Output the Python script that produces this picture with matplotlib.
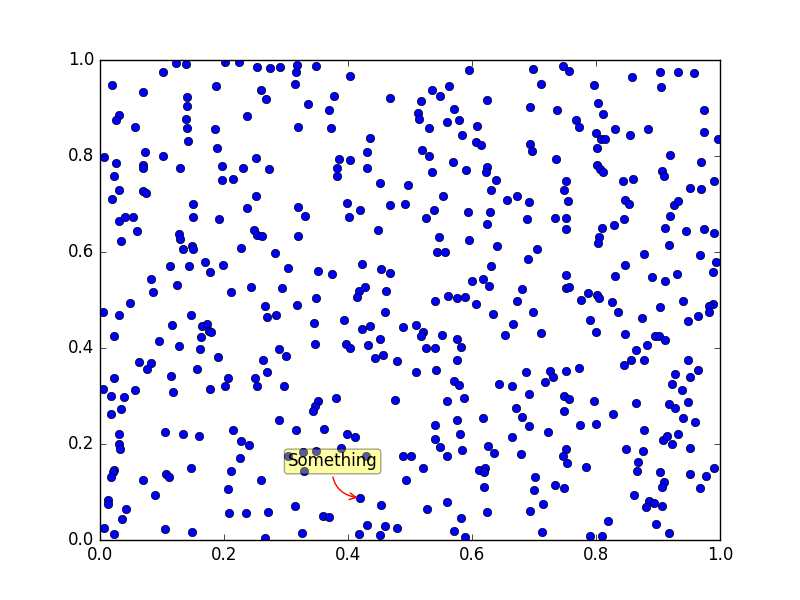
import matplotlib
matplotlib.use("Agg")
import matplotlib.pyplot as plt

# point positions, grouped by region (top-left to bottom-right)
x_vals = [
    # top row
    0.122, 0.139, 0.202, 0.224, 0.102, 0.019, 0.070, 0.187, 0.140, 0.140,
    0.031, 0.026, 0.237, 0.057, 0.138, 0.140, 0.186, 0.142, 0.189, 0.007,
    0.072, 0.102, 0.025, 0.070, 0.070, 0.129, 0.197, 0.230, 0.023, 0.197,
    0.214, 0.030, 0.069, 0.074, 0.020, 0.150, 0.237,
    0.254, 0.274, 0.290, 0.317, 0.316, 0.348, 0.404, 0.314, 0.259, 0.267,
    0.378, 0.468, 0.335, 0.369, 0.320, 0.372, 0.436, 0.251, 0.430, 0.385,
    0.404, 0.272, 0.383, 0.431, 0.383, 0.452, 0.251, 0.320, 0.399, 0.419,
    0.468, 0.492,
    0.595, 0.698, 0.711, 0.536, 0.563, 0.549, 0.517, 0.624, 0.571, 0.693,
    0.737, 0.513, 0.515, 0.579, 0.560, 0.530, 0.608, 0.584, 0.606, 0.614,
    0.693, 0.696, 0.519, 0.530, 0.735, 0.570, 0.591, 0.536, 0.624, 0.622,
    0.639, 0.496, 0.631, 0.554, 0.657, 0.673, 0.692, 0.538, 0.594, 0.629,
    0.747, 0.757, 0.904, 0.933, 0.958, 0.858, 0.905, 0.797, 0.804, 0.812,
    0.974, 0.767, 0.773, 0.830, 0.884, 0.800, 0.855, 0.808, 0.814, 0.974,
    0.997, 0.801, 0.920, 0.970, 0.801, 0.806, 0.811, 0.906, 0.910, 0.860,
    0.843, 0.752, 0.749, 0.991, 0.951, 0.970, 0.755, 0.846, 0.853, 0.925,
    0.933,
    # middle row
    0.031, 0.041, 0.053, 0.150, 0.192, 0.060, 0.034, 0.128, 0.129, 0.134,
    0.149, 0.150, 0.228, 0.113, 0.144, 0.169, 0.177, 0.198, 0.083, 0.086,
    0.124, 0.212, 0.243, 0.049, 0.005, 0.031, 0.147, 0.116, 0.165, 0.173,
    0.176, 0.179, 0.163, 0.023, 0.095, 0.128, 0.161, 0.191, 0.063, 0.083,
    0.076, 0.156,
    0.330, 0.401, 0.249, 0.254, 0.262, 0.319, 0.449, 0.282, 0.303, 0.351,
    0.374, 0.422, 0.454, 0.467, 0.293, 0.348, 0.428, 0.417, 0.414, 0.462,
    0.266, 0.269, 0.284, 0.317, 0.460, 0.345, 0.393, 0.436, 0.423, 0.488,
    0.346, 0.397, 0.404, 0.433, 0.452, 0.288, 0.300, 0.444, 0.456, 0.479,
    0.263, 0.269,
    0.525, 0.624, 0.689, 0.734, 0.546, 0.595, 0.544, 0.556, 0.640, 0.705,
    0.690, 0.631, 0.600, 0.618, 0.628, 0.681, 0.541, 0.562, 0.576, 0.589,
    0.607, 0.673, 0.634, 0.698, 0.509, 0.521, 0.518, 0.552, 0.576, 0.582,
    0.666, 0.653, 0.712, 0.526, 0.541, 0.576, 0.510, 0.542, 0.687, 0.726,
    0.752, 0.845, 0.920, 0.752, 0.809, 0.829, 0.911, 0.945, 0.974, 0.990,
    0.805, 0.803, 0.917, 0.877, 0.968, 0.994, 0.846, 0.751, 0.830, 0.891,
    0.912, 0.930, 0.989, 0.751, 0.757, 0.787, 0.801, 0.805, 0.775, 0.825,
    0.835, 0.904, 0.941, 0.989, 0.983, 0.983, 0.964, 0.949, 0.790, 0.874,
    0.800, 0.846, 0.895, 0.902, 0.911, 0.882, 0.864, 0.856, 0.878, 0.845,
    0.948, 0.751, 0.772, 0.927, 0.965,
    # bottom row
    0.023, 0.115, 0.207, 0.005, 0.018, 0.038, 0.057, 0.118, 0.177, 0.201,
    0.034, 0.017, 0.031, 0.030, 0.033, 0.105, 0.134, 0.160, 0.214, 0.228,
    0.240, 0.226, 0.023, 0.021, 0.018, 0.070, 0.106, 0.112, 0.147, 0.211,
    0.206, 0.089, 0.013, 0.013, 0.042, 0.036, 0.208, 0.235, 0.007, 0.022,
    0.105, 0.149,
    0.250, 0.253, 0.296, 0.351, 0.347, 0.344, 0.380, 0.476, 0.288, 0.316,
    0.361, 0.398, 0.411, 0.389, 0.327, 0.348, 0.304, 0.429, 0.489, 0.329,
    0.259, 0.494, 0.420, 0.454, 0.314, 0.271, 0.359, 0.369, 0.431, 0.459,
    0.479, 0.325, 0.417, 0.451, 0.266,
    0.571, 0.579, 0.644, 0.665, 0.718, 0.730, 0.692, 0.559, 0.587, 0.671,
    0.681, 0.692, 0.722, 0.541, 0.575, 0.618, 0.581, 0.665, 0.541, 0.549,
    0.584, 0.560, 0.626, 0.636, 0.679, 0.502, 0.521, 0.612, 0.621, 0.620,
    0.620, 0.702, 0.700, 0.734, 0.559, 0.528, 0.624, 0.583, 0.694, 0.714,
    0.571, 0.589, 0.713,
    0.951, 0.922, 0.938, 0.748, 0.757, 0.796, 0.864, 0.917, 0.928, 0.949,
    0.748, 0.827, 0.940, 0.960, 0.774, 0.800, 0.878, 0.908, 0.915, 0.923,
    0.933, 0.952, 0.751, 0.746, 0.754, 0.784, 0.848, 0.875, 0.867, 0.866,
    0.904, 0.909, 0.906, 0.951, 0.978, 0.991, 0.968, 0.748, 0.861, 0.886,
    0.880, 0.894, 0.907, 0.820, 0.896, 0.917, 0.790, 0.809,
]

y_vals = [
    # top row
    0.993, 0.991, 0.995, 0.995, 0.974, 0.948, 0.933, 0.945, 0.922, 0.904,
    0.885, 0.874, 0.883, 0.860, 0.877, 0.858, 0.856, 0.831, 0.816, 0.797,
    0.808, 0.800, 0.785, 0.781, 0.774, 0.776, 0.779, 0.774, 0.758, 0.749,
    0.753, 0.729, 0.727, 0.723, 0.710, 0.699, 0.691,
    0.985, 0.983, 0.985, 0.990, 0.974, 0.987, 0.966, 0.951, 0.938, 0.919,
    0.926, 0.920, 0.908, 0.895, 0.860, 0.858, 0.837, 0.795, 0.808, 0.793,
    0.791, 0.772, 0.774, 0.776, 0.758, 0.743, 0.716, 0.694, 0.702, 0.687,
    0.698, 0.700,
    0.979, 0.981, 0.949, 0.938, 0.945, 0.924, 0.915, 0.917, 0.898, 0.902,
    0.896, 0.890, 0.877, 0.875, 0.870, 0.858, 0.862, 0.843, 0.829, 0.823,
    0.825, 0.810, 0.812, 0.800, 0.793, 0.788, 0.770, 0.767, 0.777, 0.766,
    0.751, 0.740, 0.729, 0.716, 0.708, 0.716, 0.704, 0.688, 0.683, 0.684,
    0.987, 0.977, 0.975, 0.975, 0.972, 0.964, 0.944, 0.948, 0.910, 0.887,
    0.896, 0.875, 0.860, 0.857, 0.857, 0.847, 0.844, 0.835, 0.835, 0.850,
    0.835, 0.817, 0.802, 0.788, 0.782, 0.772, 0.767, 0.769, 0.759, 0.753,
    0.748, 0.748, 0.729, 0.748, 0.733, 0.731, 0.706, 0.708, 0.700, 0.697,
    0.706,
    # middle row
    0.665, 0.672, 0.672, 0.672, 0.668, 0.644, 0.623, 0.637, 0.627, 0.606,
    0.613, 0.606, 0.608, 0.571, 0.571, 0.579, 0.558, 0.572, 0.544, 0.516,
    0.531, 0.516, 0.527, 0.493, 0.476, 0.469, 0.469, 0.448, 0.446, 0.451,
    0.436, 0.433, 0.422, 0.425, 0.415, 0.404, 0.397, 0.381, 0.371, 0.369,
    0.356, 0.356,
    0.674, 0.672, 0.645, 0.635, 0.633, 0.633, 0.646, 0.597, 0.566, 0.560,
    0.554, 0.574, 0.565, 0.556, 0.524, 0.504, 0.527, 0.519, 0.506, 0.518,
    0.488, 0.465, 0.469, 0.490, 0.476, 0.452, 0.458, 0.446, 0.439, 0.443,
    0.408, 0.408, 0.401, 0.406, 0.418, 0.397, 0.383, 0.379, 0.385, 0.373,
    0.375, 0.350,
    0.670, 0.658, 0.669, 0.670, 0.631, 0.624, 0.599, 0.599, 0.612, 0.606,
    0.585, 0.570, 0.539, 0.544, 0.529, 0.522, 0.497, 0.508, 0.504, 0.506,
    0.491, 0.497, 0.470, 0.476, 0.448, 0.433, 0.425, 0.427, 0.418, 0.403,
    0.449, 0.427, 0.431, 0.401, 0.399, 0.376, 0.350, 0.354, 0.350, 0.352,
    0.670, 0.669, 0.674, 0.648, 0.649, 0.656, 0.651, 0.644, 0.648, 0.640,
    0.631, 0.618, 0.614, 0.595, 0.593, 0.579, 0.572, 0.552, 0.551, 0.547,
    0.540, 0.554, 0.558, 0.524, 0.527, 0.514, 0.510, 0.504, 0.499, 0.495,
    0.476, 0.485, 0.497, 0.491, 0.488, 0.474, 0.467, 0.456, 0.458, 0.462,
    0.433, 0.429, 0.426, 0.426, 0.416, 0.406, 0.395, 0.374, 0.374, 0.364,
    0.376, 0.352, 0.358, 0.345, 0.354,
    # bottom row
    0.338, 0.342, 0.338, 0.314, 0.301, 0.297, 0.312, 0.308, 0.314, 0.320,
    0.272, 0.262, 0.220, 0.199, 0.190, 0.226, 0.220, 0.216, 0.229, 0.206,
    0.198, 0.170, 0.146, 0.141, 0.131, 0.126, 0.138, 0.131, 0.149, 0.143,
    0.106, 0.094, 0.083, 0.075, 0.064, 0.043, 0.056, 0.056, 0.026, 0.012,
    0.023, 0.017,
    0.338, 0.320, 0.320, 0.289, 0.279, 0.269, 0.295, 0.291, 0.251, 0.229,
    0.231, 0.220, 0.214, 0.191, 0.183, 0.185, 0.176, 0.174, 0.176, 0.143,
    0.124, 0.124, 0.087, 0.073, 0.070, 0.058, 0.051, 0.047, 0.031, 0.029,
    0.024, 0.014, 0.012, 0.010, 0.004,
    0.331, 0.322, 0.324, 0.320, 0.329, 0.339, 0.304, 0.289, 0.295, 0.276,
    0.256, 0.237, 0.226, 0.239, 0.251, 0.254, 0.220, 0.214, 0.210, 0.194,
    0.187, 0.174, 0.195, 0.181, 0.179, 0.174, 0.149, 0.145, 0.149, 0.142,
    0.110, 0.131, 0.104, 0.114, 0.079, 0.064, 0.058, 0.045, 0.060, 0.076,
    0.019, 0.006, 0.017,
    0.340, 0.324, 0.312, 0.299, 0.294, 0.290, 0.285, 0.283, 0.274, 0.288,
    0.269, 0.262, 0.254, 0.246, 0.239, 0.241, 0.229, 0.208, 0.216, 0.201,
    0.220, 0.191, 0.190, 0.176, 0.160, 0.152, 0.190, 0.185, 0.162, 0.143,
    0.141, 0.120, 0.110, 0.137, 0.133, 0.151, 0.108, 0.108, 0.094, 0.081,
    0.068, 0.077, 0.070, 0.040, 0.033, 0.014, 0.008, 0.008,
]

note_text = "Something"
note_xy = (0.420, 0.087)

plt.style.use("classic")

fig = plt.figure(figsize=(8, 6), dpi=100)
ax = fig.add_subplot(111)

ax.plot(x_vals, y_vals, "bo", markeredgecolor="k", markeredgewidth=0.5)

ax.annotate(note_text, xy=note_xy, xytext=(-20, 20),
            textcoords="offset points", ha="center", va="bottom",
            bbox=dict(boxstyle="round,pad=0.2", fc="yellow", alpha=0.35),
            arrowprops=dict(arrowstyle="->", connectionstyle="arc3,rad=0.5",
                            color="red"))

ax.set_xlim(0, 1)
ax.set_ylim(0, 1)

fig.savefig("out.png", dpi=100)
